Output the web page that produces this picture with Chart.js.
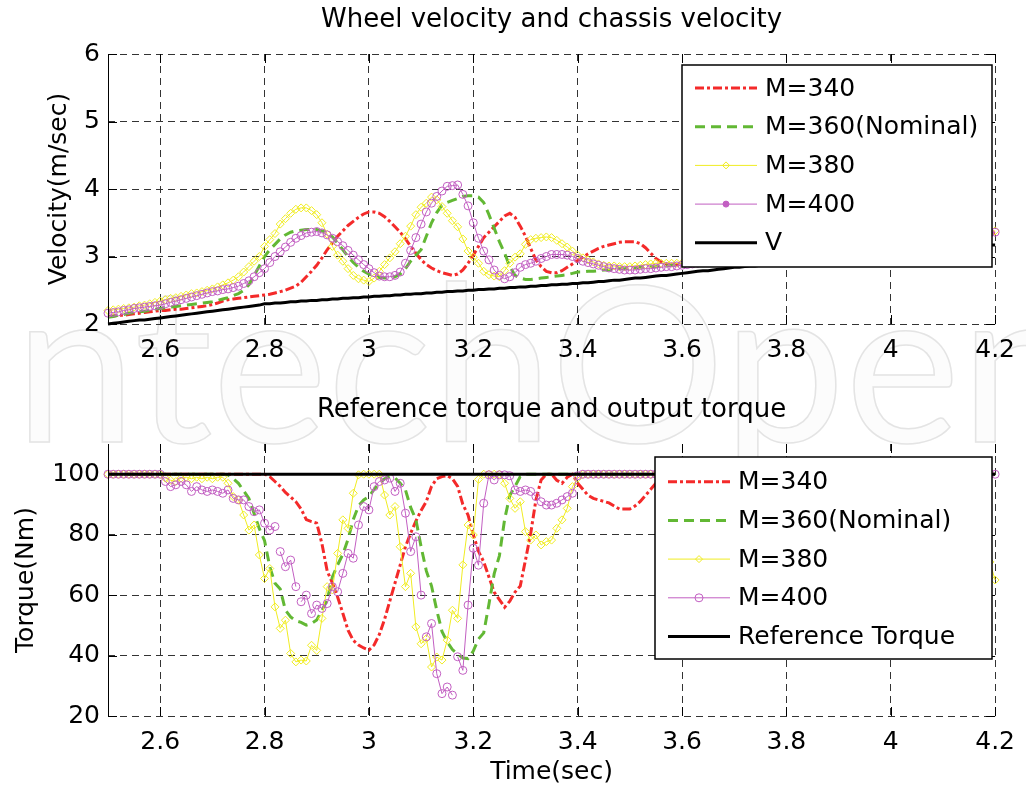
<!DOCTYPE html>
<html>
<head>
<meta charset="utf-8">
<script src="https://cdn.jsdelivr.net/npm/chart.js@4.4.1/dist/chart.umd.min.js"></script>
<style>
  html, body { margin: 0; padding: 0; background: #fff; }
  #page { position: relative; width: 1026px; height: 792px; overflow: hidden; }
  #page canvas, #page svg { position: absolute; left: 0; }
  #watermark { top: 0; }
  #velocityChart { top: 0; }
  #torqueChart { top: 380px; }
</style>
</head>
<body>
<div id="page">
  <svg id="watermark" width="1026" height="792">
    <text x="-45" y="442" font-family="Lato, 'Open Sans', sans-serif" font-size="218" fill="#fcfcfc" stroke="#e4e4e4" stroke-width="1.5">IntechOpen</text>
  </svg>
  <canvas id="velocityChart" width="1026" height="380"></canvas>
  <canvas id="torqueChart" width="1026" height="412"></canvas>
</div>
<script>
// sample times (sec)
const time = [
  2.50, 2.51, 2.52, 2.53, 2.54, 2.55, 2.56, 2.57, 2.58, 2.59,
  2.60, 2.61, 2.62, 2.63, 2.64, 2.65, 2.66, 2.67, 2.68, 2.69,
  2.70, 2.71, 2.72, 2.73, 2.74, 2.75, 2.76, 2.77, 2.78, 2.79,
  2.80, 2.81, 2.82, 2.83, 2.84, 2.85, 2.86, 2.87, 2.88, 2.89,
  2.90, 2.91, 2.92, 2.93, 2.94, 2.95, 2.96, 2.97, 2.98, 2.99,
  3.00, 3.01, 3.02, 3.03, 3.04, 3.05, 3.06, 3.07, 3.08, 3.09,
  3.10, 3.11, 3.12, 3.13, 3.14, 3.15, 3.16, 3.17, 3.18, 3.19,
  3.20, 3.21, 3.22, 3.23, 3.24, 3.25, 3.26, 3.27, 3.28, 3.29,
  3.30, 3.31, 3.32, 3.33, 3.34, 3.35, 3.36, 3.37, 3.38, 3.39,
  3.40, 3.41, 3.42, 3.43, 3.44, 3.45, 3.46, 3.47, 3.48, 3.49,
  3.50, 3.51, 3.52, 3.53, 3.54, 3.55, 3.56, 3.57, 3.58, 3.59,
  3.60, 3.61, 3.62, 3.63, 3.64, 3.65, 3.66, 3.67, 3.68, 3.69,
  3.70, 3.71, 3.72, 3.73, 3.74, 3.75, 3.76, 3.77, 3.78, 3.79,
  3.80, 3.81, 3.82, 3.83, 3.84, 3.85, 3.86, 3.87, 3.88, 3.89,
  3.90, 3.91, 3.92, 3.93, 3.94, 3.95, 3.96, 3.97, 3.98, 3.99,
  4.00, 4.01, 4.02, 4.03, 4.04, 4.05, 4.06, 4.07, 4.08, 4.09,
  4.10, 4.11, 4.12, 4.13, 4.14, 4.15, 4.16, 4.17, 4.18, 4.19,
  4.20
];
const xTicks = [2.6, 2.8, 3.0, 3.2, 3.4, 3.6, 3.8, 4.0, 4.2];
const velocityTicks = [2, 3, 4, 5, 6];
const torqueTicks = [20, 40, 60, 80, 100];

// wheel velocity (m/sec)
const velM340 = [
  2.11, 2.12, 2.13, 2.13, 2.14, 2.15, 2.16, 2.17, 2.18, 2.19,
  2.20, 2.20, 2.21, 2.22, 2.22, 2.23, 2.24, 2.25, 2.26, 2.27,
  2.29, 2.31, 2.34, 2.36, 2.37, 2.38, 2.39, 2.40, 2.41, 2.42,
  2.43, 2.44, 2.46, 2.48, 2.50, 2.53, 2.56, 2.62, 2.70, 2.78,
  2.87, 2.98, 3.10, 3.20, 3.30, 3.38, 3.46, 3.52, 3.58, 3.63,
  3.66, 3.66, 3.64, 3.59, 3.52, 3.44, 3.36, 3.26, 3.15, 3.05,
  2.95, 2.88, 2.83, 2.79, 2.76, 2.74, 2.72, 2.74, 2.80, 2.90,
  3.02, 3.15, 3.28, 3.36, 3.44, 3.52, 3.60, 3.64, 3.58, 3.45,
  3.30, 3.12, 2.95, 2.85, 2.78, 2.76, 2.76, 2.79, 2.84, 2.89,
  2.94, 2.99, 3.04, 3.08, 3.12, 3.15, 3.17, 3.19, 3.21, 3.22,
  3.22, 3.22, 3.19, 3.13, 3.05, 2.97, 2.92, 2.89, 2.88, 2.88,
  2.88, 2.89, 2.90, 2.91, 2.92, 2.92, 2.93, 2.94, 2.95, 2.96,
  2.97, 2.98, 2.99, 3.00, 3.00, 3.01, 3.02, 3.03, 3.04, 3.04,
  3.05, 3.06, 3.07, 3.08, 3.09, 3.10, 3.11, 3.12, 3.12, 3.13,
  3.14, 3.15, 3.16, 3.17, 3.18, 3.18, 3.19, 3.20, 3.21, 3.22,
  3.23, 3.24, 3.24, 3.25, 3.26, 3.27, 3.27, 3.28, 3.29, 3.29,
  3.30, 3.31, 3.31, 3.32, 3.32, 3.33, 3.33, 3.34, 3.34, 3.35,
  3.35
];
const velM360 = [
  2.10, 2.11, 2.13, 2.14, 2.16, 2.17, 2.18, 2.19, 2.20, 2.22,
  2.23, 2.24, 2.25, 2.26, 2.27, 2.28, 2.29, 2.30, 2.31, 2.32,
  2.33, 2.35, 2.37, 2.39, 2.42, 2.45, 2.50, 2.58, 2.72, 2.86,
  3.00, 3.10, 3.18, 3.26, 3.32, 3.36, 3.38, 3.39, 3.40, 3.40,
  3.40, 3.38, 3.35, 3.29, 3.20, 3.10, 3.00, 2.91, 2.84, 2.78,
  2.74, 2.71, 2.69, 2.68, 2.68, 2.70, 2.74, 2.82, 2.93, 3.02,
  3.10, 3.30, 3.50, 3.65, 3.76, 3.80, 3.83, 3.86, 3.89, 3.90,
  3.90, 3.88, 3.80, 3.62, 3.42, 3.22, 3.05, 2.85, 2.72, 2.68,
  2.66, 2.66, 2.67, 2.68, 2.69, 2.70, 2.71, 2.72, 2.73, 2.75,
  2.77, 2.77, 2.78, 2.78, 2.79, 2.80, 2.80, 2.81, 2.82, 2.82,
  2.83, 2.83, 2.84, 2.84, 2.85, 2.85, 2.86, 2.86, 2.87, 2.87,
  2.88, 2.89, 2.90, 2.91, 2.92, 2.92, 2.93, 2.94, 2.95, 2.96,
  2.97, 2.98, 2.99, 3.00, 3.00, 3.01, 3.02, 3.03, 3.04, 3.04,
  3.05, 3.06, 3.07, 3.08, 3.09, 3.10, 3.11, 3.12, 3.12, 3.13,
  3.14, 3.15, 3.16, 3.17, 3.18, 3.18, 3.19, 3.20, 3.21, 3.22,
  3.23, 3.24, 3.24, 3.25, 3.26, 3.27, 3.27, 3.28, 3.29, 3.29,
  3.30, 3.31, 3.31, 3.32, 3.32, 3.33, 3.33, 3.34, 3.34, 3.35,
  3.35
];
const velM380 = [
  2.20, 2.21, 2.22, 2.23, 2.24, 2.25, 2.27, 2.28, 2.30, 2.32,
  2.34, 2.36, 2.38, 2.39, 2.41, 2.43, 2.45, 2.46, 2.48, 2.50,
  2.52, 2.55, 2.58, 2.61, 2.65, 2.70, 2.77, 2.85, 2.93, 3.00,
  3.15, 3.25, 3.34, 3.48, 3.56, 3.64, 3.70, 3.72, 3.72, 3.68,
  3.62, 3.50, 3.33, 3.15, 3.02, 2.93, 2.82, 2.72, 2.67, 2.65,
  2.63, 2.68, 2.78, 2.88, 2.98, 3.07, 3.19, 3.30, 3.45, 3.62,
  3.73, 3.79, 3.88, 3.84, 3.74, 3.64, 3.53, 3.44, 3.26, 3.08,
  2.99, 2.90, 2.78, 2.73, 2.71, 2.70, 2.79, 2.90, 2.99, 3.04,
  3.18, 3.25, 3.27, 3.28, 3.29, 3.28, 3.24, 3.19, 3.14, 3.08,
  3.02, 2.98, 2.95, 2.92, 2.89, 2.87, 2.86, 2.86, 2.85, 2.85,
  2.85, 2.86, 2.87, 2.88, 2.89, 2.90, 2.90, 2.90, 2.90, 2.90,
  2.90, 2.91, 2.92, 2.93, 2.93, 2.94, 2.95, 2.96, 2.97, 2.98,
  2.99, 3.00, 3.01, 3.02, 3.02, 3.03, 3.04, 3.05, 3.06, 3.06,
  3.07, 3.08, 3.09, 3.10, 3.11, 3.12, 3.13, 3.14, 3.14, 3.15,
  3.16, 3.17, 3.18, 3.19, 3.20, 3.20, 3.21, 3.22, 3.23, 3.24,
  3.25, 3.26, 3.26, 3.27, 3.28, 3.29, 3.29, 3.30, 3.31, 3.31,
  3.32, 3.33, 3.33, 3.34, 3.34, 3.35, 3.35, 3.36, 3.37, 3.37,
  3.38
];
const velM400 = [
  2.16, 2.17, 2.18, 2.20, 2.21, 2.23, 2.24, 2.25, 2.26, 2.27,
  2.28, 2.30, 2.32, 2.34, 2.36, 2.38, 2.40, 2.42, 2.44, 2.46,
  2.48, 2.49, 2.51, 2.52, 2.54, 2.56, 2.60, 2.64, 2.70, 2.76,
  2.82, 2.91, 3.00, 3.07, 3.14, 3.21, 3.27, 3.31, 3.35, 3.36,
  3.37, 3.35, 3.32, 3.27, 3.22, 3.16, 3.09, 3.02, 2.95, 2.88,
  2.82, 2.76, 2.71, 2.70, 2.70, 2.72, 2.77, 2.90, 3.09, 3.28,
  3.48, 3.66, 3.79, 3.89, 3.97, 4.04, 4.05, 4.06, 3.92, 3.75,
  3.50, 3.27, 3.08, 2.95, 2.80, 2.72, 2.67, 2.70, 2.76, 2.84,
  2.88, 2.90, 2.93, 2.97, 3.00, 3.03, 3.03, 3.03, 3.02, 3.00,
  2.97, 2.93, 2.91, 2.89, 2.87, 2.85, 2.83, 2.82, 2.81, 2.80,
  2.80, 2.80, 2.81, 2.82, 2.82, 2.83, 2.84, 2.85, 2.85, 2.86,
  2.87, 2.88, 2.89, 2.90, 2.91, 2.91, 2.92, 2.93, 2.94, 2.95,
  2.96, 2.97, 2.98, 2.99, 2.99, 3.00, 3.01, 3.02, 3.03, 3.03,
  3.04, 3.05, 3.06, 3.07, 3.08, 3.09, 3.10, 3.11, 3.11, 3.12,
  3.13, 3.14, 3.15, 3.16, 3.17, 3.17, 3.18, 3.19, 3.20, 3.21,
  3.22, 3.23, 3.23, 3.24, 3.25, 3.26, 3.26, 3.27, 3.28, 3.28,
  3.29, 3.30, 3.30, 3.31, 3.31, 3.32, 3.32, 3.33, 3.34, 3.35,
  3.36
];
// chassis velocity V (m/sec)
const chassisV = [
  2.00, 2.01, 2.02, 2.03, 2.04, 2.05, 2.06, 2.06, 2.07, 2.08,
  2.09, 2.10, 2.11, 2.12, 2.13, 2.14, 2.15, 2.16, 2.17, 2.18,
  2.19, 2.20, 2.21, 2.22, 2.23, 2.24, 2.25, 2.26, 2.27, 2.28,
  2.30, 2.30, 2.31, 2.31, 2.32, 2.33, 2.33, 2.34, 2.34, 2.35,
  2.35, 2.36, 2.36, 2.37, 2.37, 2.38, 2.38, 2.39, 2.39, 2.40,
  2.40, 2.41, 2.41, 2.42, 2.42, 2.43, 2.43, 2.44, 2.44, 2.45,
  2.45, 2.46, 2.46, 2.47, 2.47, 2.48, 2.48, 2.49, 2.49, 2.50,
  2.50, 2.51, 2.51, 2.52, 2.52, 2.53, 2.53, 2.54, 2.54, 2.55,
  2.55, 2.56, 2.56, 2.57, 2.57, 2.58, 2.58, 2.59, 2.59, 2.60,
  2.60, 2.61, 2.61, 2.62, 2.63, 2.63, 2.64, 2.65, 2.65, 2.66,
  2.67, 2.68, 2.68, 2.69, 2.70, 2.71, 2.72, 2.72, 2.73, 2.74,
  2.75, 2.76, 2.77, 2.78, 2.79, 2.79, 2.80, 2.81, 2.82, 2.83,
  2.84, 2.84, 2.85, 2.86, 2.86, 2.87, 2.87, 2.88, 2.89, 2.89,
  2.90, 2.91, 2.92, 2.93, 2.93, 2.94, 2.95, 2.96, 2.97, 2.97,
  2.98, 2.99, 2.99, 3.00, 3.01, 3.01, 3.02, 3.03, 3.03, 3.04,
  3.05, 3.06, 3.06, 3.07, 3.08, 3.08, 3.09, 3.09, 3.10, 3.10,
  3.11, 3.12, 3.12, 3.13, 3.13, 3.14, 3.15, 3.15, 3.16, 3.17,
  3.17
];

// output torque (Nm)
const torM340 = [
  100, 100, 100, 100, 100, 100, 100, 100, 100, 100,
  100, 100, 100, 100, 100, 100, 100, 100, 100, 100,
  100, 100, 100, 100, 100, 100, 100, 100, 100, 100,
  100, 99.2, 97.6, 96, 94, 92.5, 90.9, 88.5, 85, 84.3,
  83.8, 77, 68, 64, 59.4, 54, 48.4, 45, 43.5, 42.5,
  41.8, 43.5, 47, 52, 58, 64, 70, 76, 80.5, 84.5,
  88, 91, 96, 98.5, 99.2, 99.5, 98.5, 96, 90, 86.5,
  80, 74.5, 71, 66, 61, 58.5, 56, 58, 61, 63,
  71.6, 80.4, 91.5, 98.1, 100, 100, 98, 97, 99, 100,
  97, 95, 93, 92, 91.5, 91, 90.5, 89.5, 88.5, 88.5,
  88.5, 89.5, 91, 93, 95, 97, 99, 100, 100, 100,
  100, 100, 100, 100, 100, 100, 100, 100, 100, 100,
  100, 100, 100, 100, 100, 100, 100, 100, 100, 100,
  100, 100, 100, 100, 100, 100, 100, 100, 100, 100,
  100, 100, 100, 100, 100, 100, 100, 100, 100, 100,
  100, 100, 100, 100, 100, 100, 100, 100, 100, 100,
  100, 100, 100, 100, 100, 100, 100, 100, 100, 100,
  100
];
const torM360 = [
  100, 100, 100, 100, 100, 100, 100, 100, 100, 100,
  100, 100, 100, 100, 100, 100, 100, 100, 100, 100,
  100, 100, 100, 99.8, 98.5, 97, 94.5, 92, 87, 82,
  78, 69.4, 63.9, 62, 55, 52.8, 51.5, 51, 50.1, 50.6,
  51.8, 55, 58.3, 66, 70, 73.5, 78.5, 85, 89.5, 91.5,
  92.6, 95, 97, 98.5, 99.2, 98.8, 97, 94.8, 89, 85,
  76, 68, 63, 55, 48, 44.5, 42, 40.5, 39.2, 39,
  41.5, 45.5, 47.5, 57, 67, 73, 85, 93, 96, 99.2,
  100, 100, 100, 100, 100, 100, 100, 100, 100, 100,
  100, 100, 100, 100, 100, 100, 100, 100, 100, 100,
  100, 100, 100, 100, 100, 100, 100, 100, 100, 100,
  100, 100, 100, 100, 100, 100, 100, 100, 100, 100,
  100, 100, 100, 100, 100, 100, 100, 100, 100, 100,
  100, 100, 100, 100, 100, 100, 100, 100, 100, 100,
  100, 100, 100, 100, 100, 100, 100, 100, 100, 100,
  100, 100, 100, 100, 100, 100, 100, 100, 100, 100,
  100, 100, 100, 100, 100, 100, 100, 100, 100, 100,
  100
];
const torM380 = [
  100, 100, 100, 100, 100, 100, 100, 100, 100, 100,
  100, 98.7, 98, 97.6, 98.7, 99, 98.5, 99, 98.5, 99,
  98.5, 99, 99, 97, 92.6, 91.5, 86.5, 81.5, 83.2, 73.3,
  65.5, 68.8, 56.1, 49, 51.7, 40.7, 37.9, 38.5, 38.2, 43.4,
  41.7, 52.3, 62.8, 61.7, 73.8, 84.9, 82.1, 93.7, 99.8, 100,
  100, 100, 100, 93.1, 86.5, 89.3, 76, 62.8, 67.2, 49.5,
  43.9, 45.6, 36.2, 39.5, 38.5, 45.1, 55, 52.3, 70, 83.2,
  79.9, 98.3, 100, 100, 100, 100, 97, 92, 88.7, 90.9,
  81, 78.2, 79.9, 76.6, 77.7, 78.2, 82.1, 84.9, 88.7, 95.9,
  98.7, 100, 100, 100, 100, 100, 100, 100, 100, 100,
  100, 100, 100, 100, 100, 100, 100, 100, 100, 100,
  100, 100, 100, 100, 100, 100, 100, 100, 100, 100,
  100, 100, 100, 100, 100, 100, 100, 100, 100, 100,
  100, 100, 100, 100, 100, 100, 100, 100, 100, 100,
  100, 100, 100, 100, 100, 100, 100, 100, 100, 100,
  100, 100, 100, 100, 100, 100, 100, 100, 100, 100,
  100, 100, 100, 100, 100, 100, 100, 92, 80, 71,
  65
];
const torM400 = [
  100, 100, 100, 100, 100, 100, 100, 100, 100, 100,
  100, 97.6, 95.9, 96.5, 97.6, 96.5, 94.3, 95.9, 94.8, 94.3,
  94.8, 94.3, 93.7, 94.8, 92, 91.5, 91.5, 89.3, 87.6, 88.2,
  83.8, 81.5, 82.7, 74.4, 69.4, 71.6, 62.8, 57.8, 60, 53.9,
  56.7, 55.6, 57.2, 62.8, 61.1, 67.2, 73.8, 72.2, 83.2, 89.3,
  88.2, 95.9, 97.6, 98.1, 98.7, 94.3, 97, 87.1, 74.4, 79.3,
  60, 46.2, 50.6, 34, 27.4, 29.6, 26.9, 39.6, 35.1, 56.7,
  75.5, 69.9, 90.4, 99.8, 98.1, 99.8, 99.8, 99.5, 94.8, 94.3,
  94.8, 94.3, 92.6, 90.9, 89.8, 89.8, 90.4, 91.5, 92.6, 93.7,
  99.5, 100, 100, 100, 100, 100, 100, 100, 100, 100,
  100, 100, 100, 100, 100, 100, 100, 100, 100, 100,
  100, 100, 100, 100, 100, 100, 100, 100, 100, 100,
  100, 100, 100, 100, 100, 100, 100, 100, 100, 100,
  100, 100, 100, 100, 100, 100, 100, 100, 100, 100,
  100, 100, 100, 100, 100, 100, 100, 100, 100, 100,
  100, 100, 100, 100, 100, 100, 100, 100, 100, 100,
  100, 100, 100, 100, 100, 100, 100, 100, 100, 100,
  100
];
// M=400 torque trace is broken right after these samples
const torM400Breaks = [2.82, 2.86, 3.10, 3.16];
const refTime = [2.5, 4.2];
const refTorque = [100, 100];

const FONT = 'DejaVu Sans';
const RED = '#f42a2a';
const GREEN = '#62b834';
const YELLOW = '#f0ec22';
const PURPLE = '#c25fc2';
const HOLLOW = 'rgba(255,255,255,0)';

function pts(xs, ys) {
    return xs.map((x, i) => ({ x: x, y: ys[i] }));
}

function lineSet(label, xs, ys, extra) {
    return Object.assign({
        label: label,
        data: pts(xs, ys),
        tension: 0,
        pointRadius: 0,
        fill: false,
        clip: false
    }, extra);
}

const red = { borderColor: RED, borderWidth: 3, borderDash: [9, 3, 3, 3] };
const green = { borderColor: GREEN, borderWidth: 3, borderDash: [10, 6] };
const yellow = { borderColor: YELLOW, borderWidth: 1, pointStyle: 'rectRot', pointRadius: 4,
    pointBorderColor: YELLOW, pointBackgroundColor: HOLLOW, pointBorderWidth: 1 };
const purple = { borderColor: PURPLE, borderWidth: 1, pointStyle: 'circle', pointRadius: 4,
    pointBorderColor: PURPLE, pointBackgroundColor: HOLLOW, pointBorderWidth: 1 };
const black = { borderColor: '#000', borderWidth: 3 };

// axes frame, ticks, titles and legend drawn like the MATLAB figure
const framePlugin = {
    id: 'frame',
    afterDraw(chart, args, o) {
        const ctx = chart.ctx;
        const a = chart.chartArea;
        const xs = chart.scales.x;
        const ys = chart.scales.y;
        ctx.save();
        ctx.strokeStyle = '#000';
        ctx.lineWidth = 1;
        ctx.setLineDash([]);
        ctx.beginPath();
        ctx.moveTo(a.left + 0.5, a.top);
        ctx.lineTo(a.left + 0.5, a.bottom);
        xTicks.forEach(v => {
            const px = Math.round(xs.getPixelForValue(v)) + 0.5;
            ctx.moveTo(px, a.bottom);
            ctx.lineTo(px, a.bottom - 9);
            ctx.moveTo(px, a.top);
            ctx.lineTo(px, a.top + 9);
        });
        o.yTicks.forEach(v => {
            const py = Math.round(ys.getPixelForValue(v)) + 0.5;
            ctx.moveTo(a.left, py);
            ctx.lineTo(a.left + 9, py);
            ctx.moveTo(a.right, py);
            ctx.lineTo(a.right - 9, py);
        });
        ctx.stroke();

        ctx.fillStyle = '#000';
        ctx.textAlign = 'center';
        ctx.textBaseline = 'middle';
        const cx = (a.left + a.right) / 2;
        ctx.font = '26px "' + FONT + '"';
        ctx.fillText(o.title, cx, o.titleY);
        ctx.font = '25px "' + FONT + '"';
        if (o.xLabel) {
            ctx.fillText(o.xLabel, cx, o.xLabelY);
        }
        ctx.save();
        ctx.translate(o.yLabelX, (a.top + a.bottom) / 2);
        ctx.rotate(-Math.PI / 2);
        ctx.fillText(o.yLabel, 0, 0);
        ctx.restore();

        // legend box
        const L = o.legend;
        ctx.fillStyle = '#fff';
        ctx.fillRect(L.x, L.y, L.w, L.h);
        ctx.lineWidth = 1.5;
        ctx.strokeStyle = '#000';
        ctx.strokeRect(L.x, L.y, L.w, L.h);
        L.rows.forEach((r, i) => {
            const y = L.rowY + i * L.rowStep;
            ctx.save();
            ctx.strokeStyle = r.color;
            ctx.lineWidth = r.width;
            ctx.setLineDash(r.dash || []);
            ctx.beginPath();
            ctx.moveTo(L.lineX1, y);
            ctx.lineTo(L.lineX2, y);
            ctx.stroke();
            ctx.setLineDash([]);
            ctx.lineWidth = 1;
            const mx = (L.lineX1 + L.lineX2) / 2;
            if (r.marker === 'diamond') {
                ctx.beginPath();
                ctx.moveTo(mx - r.size, y);
                ctx.lineTo(mx, y - r.size);
                ctx.lineTo(mx + r.size, y);
                ctx.lineTo(mx, y + r.size);
                ctx.closePath();
                ctx.stroke();
            } else if (r.marker === 'circle' || r.marker === 'dot') {
                ctx.beginPath();
                ctx.arc(mx, y, r.size, 0, Math.PI * 2);
                if (r.marker === 'dot') {
                    ctx.fillStyle = r.color;
                    ctx.fill();
                }
                ctx.stroke();
            }
            ctx.restore();
            ctx.fillStyle = '#000';
            ctx.textAlign = 'left';
            ctx.fillText(r.label, L.textX, y + 1);
        });
        ctx.restore();
    }
};

function baseOptions(yMin, yMax, yTicks, padTop, xHeight, frame) {
    return {
        responsive: false,
        animation: false,
        events: [],
        layout: { padding: { top: padTop, right: 24, left: 0, bottom: 0 } },
        plugins: {
            legend: { display: false },
            tooltip: { enabled: false },
            frame: frame
        },
        scales: {
            x: {
                type: 'linear',
                min: 2.5,
                max: 4.2,
                afterBuildTicks: s => { s.ticks = xTicks.map(v => ({ value: v })); },
                afterFit: s => { s.height = xHeight; },
                grid: { color: '#333', lineWidth: 1, drawTicks: false },
                border: { display: false, dash: [7, 5] },
                ticks: {
                    autoSkip: false,
                    maxRotation: 0,
                    padding: 11,
                    color: '#000',
                    font: { family: FONT, size: 25 },
                    callback: v => String(Math.round(v * 10) / 10)
                }
            },
            y: {
                min: yMin,
                max: yMax,
                afterBuildTicks: s => { s.ticks = yTicks.map(v => ({ value: v })); },
                afterFit: s => { s.width = 108; },
                grid: { color: '#333', lineWidth: 1, drawTicks: false },
                border: { display: false, dash: [7, 5] },
                ticks: {
                    padding: 8,
                    color: '#000',
                    font: { family: FONT, size: 25 }
                }
            }
        }
    };
}

new Chart(document.getElementById('velocityChart').getContext('2d'), {
    type: 'line',
    data: {
        datasets: [
            lineSet('V', time, chassisV, black),
            lineSet('M=400', time, velM400, purple),
            lineSet('M=380', time, velM380, yellow),
            lineSet('M=360(Nominal)', time, velM360, green),
            lineSet('M=340', time, velM340, red)
        ]
    },
    options: baseOptions(2, 6, velocityTicks, 54, 56, {
        yTicks: velocityTicks,
        title: 'Wheel velocity and chassis velocity',
        titleY: 20,
        yLabel: 'Velocity(m/sec)',
        yLabelX: 59,
        legend: {
            x: 682, y: 65, w: 310, h: 202,
            rowY: 88, rowStep: 38.7,
            lineX1: 695, lineX2: 757, textX: 765,
            rows: [
                { label: 'M=340', color: RED, width: 3, dash: [9, 3, 3, 3] },
                { label: 'M=360(Nominal)', color: GREEN, width: 3, dash: [10, 6] },
                { label: 'M=380', color: YELLOW, width: 1, marker: 'diamond', size: 3.5 },
                { label: 'M=400', color: PURPLE, width: 1, marker: 'dot', size: 3 },
                { label: 'V', color: '#000', width: 3 }
            ]
        }
    }),
    plugins: [framePlugin]
});

new Chart(document.getElementById('torqueChart').getContext('2d'), {
    type: 'line',
    data: {
        datasets: [
            lineSet('Reference Torque', refTime, refTorque, black),
            lineSet('M=400', time, torM400, Object.assign({
                segment: {
                    borderColor: c => torM400Breaks.some(t => Math.abs(t - time[c.p0DataIndex]) < 1e-6) ? HOLLOW : PURPLE
                }
            }, purple)),
            lineSet('M=380', time, torM380, yellow),
            lineSet('M=360(Nominal)', time, torM360, green),
            lineSet('M=340', time, torM340, red)
        ]
    },
    options: baseOptions(20, 110, torqueTicks, 64, 76, {
        yTicks: torqueTicks,
        title: 'Reference torque and output torque',
        titleY: 30,
        xLabel: 'Time(sec)',
        xLabelY: 392,
        yLabel: 'Torque(Nm)',
        yLabelX: 26,
        legend: {
            x: 655, y: 77, w: 337, h: 202,
            rowY: 101.7, rowStep: 38.7,
            lineX1: 668, lineX2: 730, textX: 738,
            rows: [
                { label: 'M=340', color: RED, width: 3, dash: [9, 3, 3, 3] },
                { label: 'M=360(Nominal)', color: GREEN, width: 3, dash: [10, 6] },
                { label: 'M=380', color: YELLOW, width: 1, marker: 'diamond', size: 3.5 },
                { label: 'M=400', color: PURPLE, width: 1, marker: 'circle', size: 4 },
                { label: 'Reference Torque', color: '#000', width: 3 }
            ]
        }
    }),
    plugins: [framePlugin]
});
</script>
</body>
</html>
